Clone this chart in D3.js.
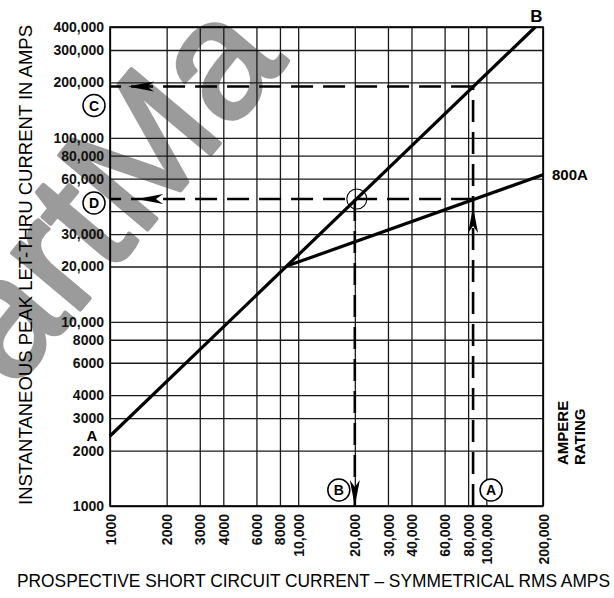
<!DOCTYPE html>
<html><head><meta charset="utf-8">
<script src="https://cdn.jsdelivr.net/npm/d3@7"></script>
<style>body{margin:0;background:#fff} svg{display:block}</style>
</head><body>
<svg id="c" width="614" height="598"></svg>
<script>
// ---- data ----
const xTicks = [1000,2000,3000,4000,6000,8000,10000,20000,30000,40000,60000,80000,100000,200000];
const yTicks = [1000,2000,3000,4000,6000,8000,10000,20000,30000,40000,60000,80000,100000,200000,300000,400000];
const yLabelTicks = [1000,2000,3000,4000,6000,8000,10000,20000,30000,60000,80000,100000,200000,300000,400000];
const letThruLine = [[1000,2400],[182000,400000]];   // line A–B
const rating800Line = [[8700,20100],[200000,63000]]; // 800A curve
const levelC = 190000, levelD = 46500;   // horizontal read-outs
const xA = 85000, xB = 20000;            // vertical read-outs
const xTitle = "PROSPECTIVE SHORT CIRCUIT CURRENT – SYMMETRICAL RMS AMPS";
const yTitle = "INSTANTANEOUS PEAK LET-THRU CURRENT IN AMPS";

const svg = d3.select("#c");
const L=110, R=543, T=27, B=506;
const x = d3.scaleLog().domain([1000,200000]).range([L,R]);
const y = d3.scaleLog().domain([1000,400000]).range([B,T]);
const fmt = v => v < 10000 ? String(v) : d3.format(",")(v);
const bold = "'Liberation Sans', Arial, sans-serif";

// watermark
svg.append("text").attr("transform","translate(120,200) rotate(-50)")
  .attr("text-anchor","middle").attr("y",40)
  .attr("font-family",bold).attr("font-size",168).attr("fill","#9b9b9b")
  .attr("stroke","#9b9b9b").attr("stroke-width",4).attr("stroke-linejoin","round")
  .text("artMa");

// grid
const g = svg.append("g");
g.append("g").attr("transform",`translate(0,${B})`)
  .call(d3.axisBottom(x).tickValues(xTicks).tickSize(-(B-T)).tickFormat(""))
  .call(a=>{a.select(".domain").remove(); a.selectAll("line").attr("stroke","#1a1a1a").attr("stroke-width",1.3);});
g.append("g").attr("transform",`translate(${L},0)`)
  .call(d3.axisLeft(y).tickValues(yTicks).tickSize(-(R-L)).tickFormat(""))
  .call(a=>{a.select(".domain").remove(); a.selectAll("line").attr("stroke","#1a1a1a").attr("stroke-width",1.3);});
g.append("rect").attr("x",L).attr("y",T).attr("width",R-L).attr("height",B-T)
  .attr("fill","none").attr("stroke","#000").attr("stroke-width",1.6);

// y labels
svg.append("g").attr("transform",`translate(${L-6},0)`)
  .call(d3.axisLeft(y).tickValues(yLabelTicks).tickSize(0).tickPadding(0).tickFormat(fmt))
  .call(a=>{a.select(".domain").remove();
    a.selectAll("text").attr("font-family",bold).attr("font-weight","bold").attr("font-size",14).attr("fill","#111");});

// x labels
svg.append("g").attr("transform",`translate(0,${B})`)
  .call(d3.axisBottom(x).tickValues(xTicks).tickSize(0).tickFormat(fmt))
  .call(a=>{a.select(".domain").remove();
    a.selectAll("text").attr("font-family",bold).attr("font-weight","bold").attr("font-size",14).attr("fill","#111")
     .attr("text-anchor","end").attr("transform","translate(0,8) rotate(-90)").attr("x",0).attr("y",0).attr("dy","0.36em");});

// curves
const ln = d3.line().x(d=>x(d[0])).y(d=>y(d[1]));
svg.append("path").attr("d",ln(letThruLine)).attr("fill","none").attr("stroke","#000").attr("stroke-width",3.2);
svg.append("path").attr("d",ln(rating800Line)).attr("fill","none").attr("stroke","#000").attr("stroke-width",3.2);

// dashed read-outs
const dash = {"stroke":"#000","stroke-width":2.6,"stroke-dasharray":"22,10","fill":"none"};
function seg(x1,y1,x2,y2){const p=svg.append("line").attr("x1",x1).attr("y1",y1).attr("x2",x2).attr("y2",y2);
  for(const k in dash) p.attr(k,dash[k]); return p;}
seg(x(xA), y(levelC), x(1000), y(levelC));
seg(x(xA), y(levelD), x(1000), y(levelD));
seg(x(xA), B, x(xA), y(levelC));
seg(x(xB), y(levelD), x(xB), B);

// arrowheads (tip at origin, pointing +x)
const arrowPath = "M0,0 L-26,-5 L-19,0 L-26,5 Z";
function arrow(px,py,angle){svg.append("path").attr("d",arrowPath).attr("fill","#000")
  .attr("transform",`translate(${px},${py}) rotate(${angle})`);}
arrow(x(1000)+18, y(levelC), 180);
arrow(x(1000)+27, y(levelD), 180);
arrow(x(xA), y(levelD)+8, -90);
arrow(x(xB), B, 90);

// intersection circle
svg.append("circle").attr("cx",x(xB)+2).attr("cy",y(levelD)).attr("r",10)
  .attr("fill","none").attr("stroke","#000").attr("stroke-width",1.1);

// circled letters
function circled(cx,cy,t){svg.append("circle").attr("cx",cx).attr("cy",cy).attr("r",11)
  .attr("fill","#fff").attr("stroke","#000").attr("stroke-width",1.5);
  svg.append("text").attr("x",cx).attr("y",cy).attr("dy","0.36em").attr("text-anchor","middle")
   .attr("font-family",bold).attr("font-weight","bold").attr("font-size",14).text(t);}
circled(x(1000)-16, y(levelC)+19, "C");
circled(x(1000)-16, y(levelD)+4, "D");
circled(x(xB)-16, B-16, "B");
circled(x(xA)+18, B-16, "A");

// end labels
svg.append("text").attr("x",x(1000)-18).attr("y",y(2400)+5).attr("text-anchor","middle")
  .attr("font-family",bold).attr("font-weight","900").attr("font-size",15).text("A");
svg.append("text").attr("x",x(182000)+1).attr("y",22).attr("text-anchor","middle")
  .attr("font-family",bold).attr("font-weight","900").attr("font-size",17).text("B");
svg.append("text").attr("x",R+9).attr("y",y(63000)+5)
  .attr("font-family",bold).attr("font-weight","bold").attr("font-size",15).text("800A");
svg.append("text").attr("transform","translate(568,465) rotate(-90)")
  .attr("font-family",bold).attr("font-weight","bold").attr("font-size",15).text("AMPERE");
svg.append("text").attr("transform","translate(585,465) rotate(-90)")
  .attr("font-family",bold).attr("font-weight","bold").attr("font-size",15).text("RATING");

// axis titles
svg.append("text").attr("x",17).attr("y",587).attr("textLength",593).attr("lengthAdjust","spacingAndGlyphs")
  .attr("font-family","'Liberation Sans', Arial, sans-serif").attr("font-size",18).text(xTitle);
svg.append("text").attr("transform","translate(32,505) rotate(-90)").attr("textLength",480).attr("lengthAdjust","spacingAndGlyphs")
  .attr("font-family","'Liberation Sans', Arial, sans-serif").attr("font-size",19).text(yTitle);
</script>
</body></html>
